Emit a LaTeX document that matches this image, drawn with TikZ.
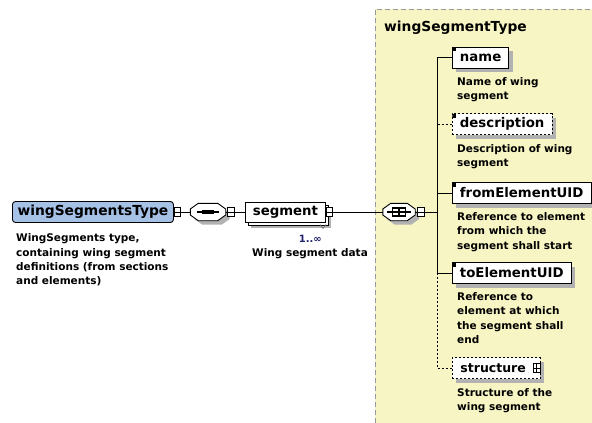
\documentclass[tikz,border=0pt]{standalone}
\usepackage{fontspec}
\setmainfont{DejaVu Sans}
\usetikzlibrary{shadows}

\definecolor{typefill}{HTML}{A5C1E6}
\definecolor{groupfill}{HTML}{F8F5C4}
\definecolor{groupedge}{HTML}{9A9A9A}
\definecolor{shade}{HTML}{B2B2B2}
\definecolor{occur}{HTML}{22226E}

\newcommand\lblfont{\fontsize{13.3}{15}\selectfont\bfseries}
\newcommand\typefont{\fontsize{13.8}{15}\selectfont\bfseries}
\newcommand\dscfont{\fontsize{10.5}{14.2}\selectfont\bfseries}

\tikzset{
  wire/.style={line width=0.9pt},
  typebox/.style={draw, line width=0.9pt, fill=typefill, rounded corners=3pt,
    font=\typefont, minimum height=21pt, minimum width=161pt,
    inner xsep=5pt, inner ysep=0pt, anchor=west},
  elem/.style={draw, line width=0.9pt, fill=white, font=\lblfont,
    minimum height=21pt, inner xsep=7.5pt, inner ysep=0pt, anchor=west,
    drop shadow={shadow xshift=4pt, shadow yshift=-4pt, fill=shade, opacity=1}},
  required/.style={path picture={\fill[black] (path picture bounding box.north west) rectangle ++(4pt,-4pt);}},
  optional/.style={dash pattern=on 2pt off 2pt},
  segbox/.style={draw, line width=0.9pt, fill=white, font=\lblfont,
    minimum height=20pt, minimum width=80pt, inner xsep=7pt, inner ysep=0pt, anchor=west,
    drop shadow={shadow xshift=6pt, shadow yshift=-6pt, fill=shade, opacity=1},
    general shadow={shadow xshift=3pt, shadow yshift=-3pt, fill=white, draw=black, line width=0.9pt}},
  compbox/.style={inner sep=0pt, minimum width=#1, minimum height=17pt},
  octo/.style={draw, line width=0.9pt, fill=white,
    drop shadow={shadow xshift=4pt, shadow yshift=-4pt, fill=shade, opacity=1}},
  collapse/.style={draw, fill=white, line width=0.8pt, minimum width=6.5pt, minimum height=9pt, inner sep=0pt,
    path picture={\draw[line width=0.8pt] (path picture bounding box.west) -- (path picture bounding box.east);}},
  expand/.style={draw, fill=white, line width=0.8pt, minimum width=7pt, minimum height=9pt, inner sep=0pt,
    path picture={\draw[line width=0.9pt] (path picture bounding box.west) -- (path picture bounding box.east)
      (path picture bounding box.north) -- (path picture bounding box.south);}},
  note/.style={font=\dscfont, align=left, inner sep=0pt, anchor=north west}
}

\begin{document}
\begin{tikzpicture}[x=1pt, y=-1pt]
\useasboundingbox (0,0) rectangle (592,423);

% complex type area
\fill[groupfill] (375,9) rectangle (592,423);
\draw[groupedge, line width=0.9pt, dash pattern=on 5pt off 3pt] (375,423) -- (375,9) -- (592,9);
\node[anchor=base west, inner sep=0pt, font=\typefont] (grouptitle) at (384,31) {wingSegmentType};

% root type
\node[typebox] (wst) at (12,212) {wingSegmentsType};
\node[collapse] (wstx) at ([xshift=3.5pt]wst.east) {};
\node[note] (wstnote) at (16,233.8) {WingSegments type,\\containing wing segment\\definitions (from sections\\and elements)};

% sequence compositor
\node[compbox=35pt] (seq) at (208,212) {};
\draw[octo] ([xshift=8pt]seq.north west) -- ([xshift=-8pt]seq.north east)
  -- ([yshift=3pt]seq.east) -- ([yshift=-3pt]seq.east)
  -- ([xshift=-8pt]seq.south east) -- ([xshift=8pt]seq.south west)
  -- ([yshift=-3pt]seq.west) -- ([yshift=3pt]seq.west) -- cycle;
\draw[line width=1.1pt] ([xshift=-11pt]seq.center) -- ([xshift=11pt]seq.center);
\foreach \d in {-4,0,4}
  \fill ([xshift=\d pt]seq.center) +(-1.6pt,-1.6pt) rectangle +(1.6pt,1.6pt);
\node[collapse] (seqx) at ([xshift=5pt]seq.east) {};

% repeated element
\node[segbox] (seg) at (245,212) {segment};
\node[collapse] (segx) at ([xshift=3.5pt]seg.east) {};
\draw[black!55, line width=0.7pt] (320,224.5) -- (323,228.5) -- (326,224.5);
\node[anchor=base east, inner sep=0pt, font=\fontsize{10}{12}\selectfont\bfseries, text=occur] (occ) at (322,242) {1..∞};
\node[anchor=base west, inner sep=0pt, font=\dscfont] (segnote) at (252,256) {Wing segment data};

% all compositor
\node[compbox=32pt] (allg) at (399,212) {};
\draw[octo] ([xshift=8pt]allg.north west) -- ([xshift=-8pt]allg.north east)
  -- ([yshift=3pt]allg.east) -- ([yshift=-3pt]allg.east)
  -- ([xshift=-8pt]allg.south east) -- ([xshift=8pt]allg.south west)
  -- ([yshift=-3pt]allg.west) -- ([yshift=3pt]allg.west) -- cycle;
\draw[line width=1.2pt] ([xshift=-12pt]allg.center) -- ([xshift=12pt]allg.center);
\draw[line width=1.2pt] ([xshift=-6.5pt,yshift=-4pt]allg.center) rectangle ([xshift=6.5pt,yshift=4pt]allg.center);
\draw[line width=1.2pt] ([yshift=-4pt]allg.center) -- ([yshift=4pt]allg.center);
\node[collapse] (allx) at ([xshift=5.5pt]allg.east) {};

% child elements
\node[elem, required] (name) at (452,57.5) {name};
\node[note] (namenote) at (457,77.5) {Name of wing\\segment};

\node[elem, required, optional] (desc) at (452,124) {description};
\node[note] (descnote) at (457,144.5) {Description of wing\\segment};

\node[elem, required] (fromE) at (452,193) {fromElementUID};
\node[note] (fromnote) at (457,212.5) {Reference to element\\from which the\\segment shall start};

\node[elem, required] (toE) at (452,273) {toElementUID};
\node[note] (tonote) at (457,292.5) {Reference to\\element at which\\the segment shall\\end};

\node[elem, optional, font=\fontsize{12.5}{15}\selectfont\bfseries, minimum width=88pt,
  inner xsep=8pt, text width=72pt, align=left] (struct) at (452,368) {structure};
\node[expand] (structx) at ([xshift=-4.5pt]struct.east) {};
\node[note] (structnote) at (457,388) {Structure of the\\wing segment};

% connectors
\coordinate (trunk) at (437,212);
\draw[wire] (wst.east) -- (wstx.west);
\draw[wire] (wstx.east) -- (seq.west);
\draw[wire] (seq.east) -- (seqx.west);
\draw[wire] (seqx.east) -- (seg.west);
\draw[wire] (segx.east) -- (allg.west);
\draw[wire] (allg.east) -- (allx.west);
\draw[wire] (allx.east) -- (trunk);
\draw[wire] (name.west) -| (trunk);
\draw[wire] (trunk) |- (fromE.west);
\draw[wire] (trunk) |- (toE.west);
\draw[wire, dash pattern=on 2pt off 2pt] (desc.west) -- (desc.west -| trunk);
\draw[wire, dash pattern=on 2pt off 2pt] (toE.west -| trunk) |- (struct.west);
\end{tikzpicture}
\end{document}
